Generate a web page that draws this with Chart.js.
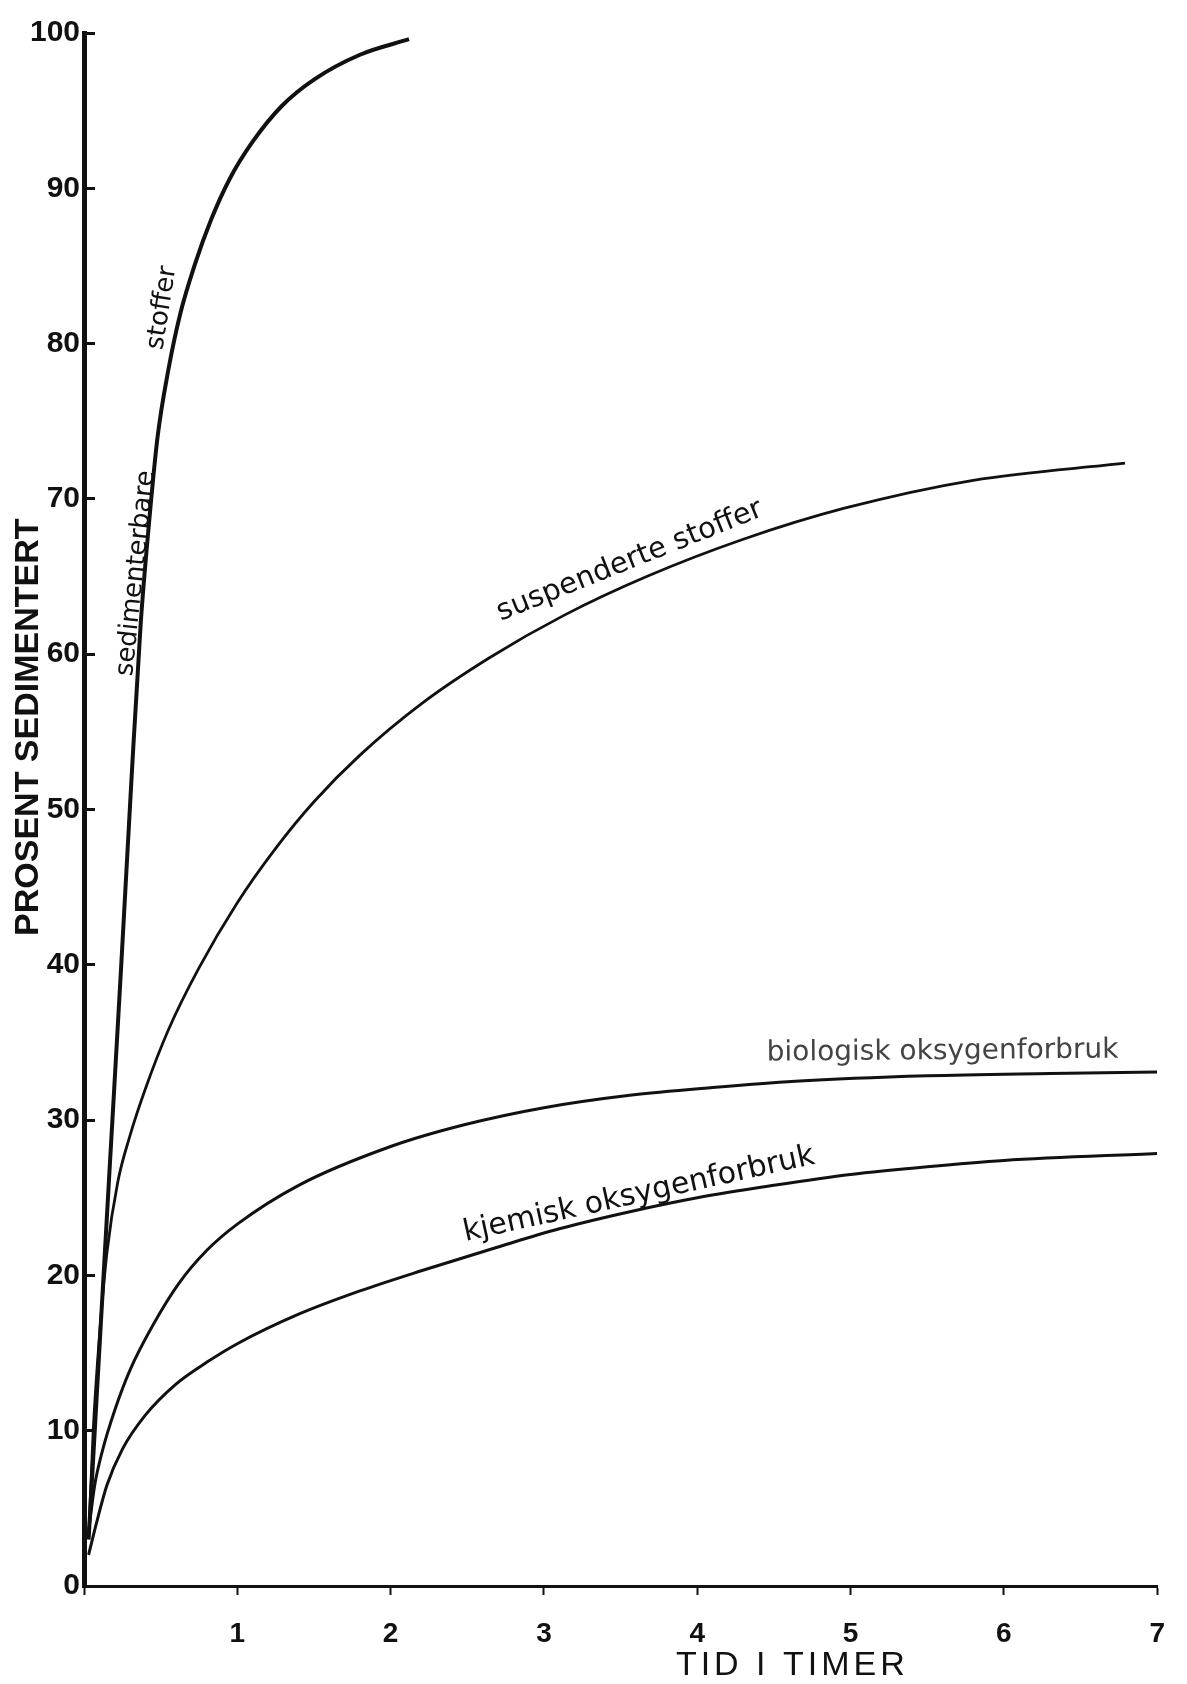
<!DOCTYPE html>
<html>
<head>
<meta charset="utf-8">
<script src="https://cdn.jsdelivr.net/npm/chart.js@4.4.1/dist/chart.umd.min.js"></script>
<style>
  html, body { margin: 0; padding: 0; background: #fff; }
  canvas { display: block; }
</style>
</head>
<body>
<canvas id="chart" width="1187" height="1684"></canvas>
<script>
// Sedimentation over time
const sedimentHours = [0.03, 0.165, 0.243, 0.31, 0.37, 0.42, 0.48, 0.55, 0.63, 0.72, 0.83, 0.95, 1.10, 1.29, 1.5, 1.8, 2.12];
const sedimentPct   = [3, 26.5, 40, 52, 62, 68, 74, 78.3, 82, 85, 88, 90.6, 93.0, 95.3, 97.0, 98.6, 99.6];

const suspendedHours = [0.03, 0.06, 0.10, 0.15, 0.22, 0.30, 0.40, 0.55, 0.75, 1.0, 1.25, 1.5, 1.8, 2.2, 2.65, 3.13, 3.67, 4.3, 4.96, 5.8, 6.79];
const suspendedPct   = [3, 10, 16, 21.5, 26, 29, 32, 35.8, 39.8, 44, 47.5, 50.5, 53.5, 56.8, 59.8, 62.5, 65.0, 67.4, 69.4, 71.2, 72.3];

const bioHours = [0.03, 0.07, 0.12, 0.2, 0.3, 0.45, 0.62, 0.8, 1.0, 1.4, 2.0, 2.48, 3.0, 3.56, 4.1, 4.64, 5.5, 6.3, 7.0];
const bioPct   = [3.5, 6.5, 8.7, 11.3, 13.9, 16.8, 19.5, 21.6, 23.3, 25.8, 28.3, 29.7, 30.8, 31.6, 32.1, 32.5, 32.85, 33.0, 33.1];

const chemHours = [0.03, 0.08, 0.15, 0.25, 0.4, 0.6, 0.8, 1.0, 1.4, 1.8, 2.2, 2.69, 3.1, 3.56, 4.0, 4.5, 5.0, 5.5, 6.0, 7.0];
const chemPct   = [2, 4, 6.5, 8.8, 11.0, 13.0, 14.4, 15.6, 17.5, 19.0, 20.3, 21.8, 23.0, 24.1, 25.0, 25.8, 26.5, 27.0, 27.4, 27.85];

const xTickLabels = ["", "1", "2", "3", "4", "5", "6", "7"];
const yTickLabels = ["0", "10", "20", "30", "40", "50", "60", "70", "80", "90", "100"];

// Curve captions, anchored in data units
const curveLabels = [
  { text: "stoffer", x: 0.51, y: 82.3, angle: -81, size: 26 },
  { text: "sedimenterbare", x: 0.34, y: 65.2, angle: -84, size: 26 },
  { text: "suspenderte stoffer", x: 3.56, y: 66.0, angle: -21.8, size: 29 },
  { text: "biologisk oksygenforbruk", x: 5.6, y: 34.4, angle: -0.5, size: 28, color: "#444" },
  { text: "kjemisk oksygenforbruk", x: 3.62, y: 25.2, angle: -12.5, size: 30 }
];

const toPoints = (xs, ys) => xs.map((x, i) => ({ x: x, y: ys[i] }));

function curve(data, width) {
  return {
    data: data,
    borderColor: "#111",
    borderWidth: width,
    pointRadius: 0,
    fill: false,
    tension: 0.4,
    cubicInterpolationMode: "monotone"
  };
}

const tickFont = { family: "'Liberation Sans', Arial, sans-serif", weight: "bold" };

// axis titles and curve captions
const captionPlugin = {
  id: "captions",
  afterDatasetsDraw(chart) {
    const ctx = chart.ctx;
    const xs = chart.scales.x, ys = chart.scales.y;
    ctx.save();
    ctx.textAlign = "center";
    ctx.textBaseline = "middle";
    curveLabels.forEach(l => {
      ctx.save();
      ctx.translate(xs.getPixelForValue(l.x), ys.getPixelForValue(l.y));
      ctx.rotate(l.angle * Math.PI / 180);
      ctx.fillStyle = l.color || "#111";
      ctx.font = l.size + "px 'DejaVu Sans', sans-serif";
      ctx.fillText(l.text, 0, 0);
      ctx.restore();
    });

    // y title, sits a bit above the middle of the axis
    ctx.save();
    ctx.translate(29, ys.getPixelForValue(55.3));
    ctx.rotate(-Math.PI / 2);
    ctx.fillStyle = "#111";
    ctx.font = "bold 34px 'Liberation Sans', Arial, sans-serif";
    ctx.fillText("PROSENT SEDIMENTERT", 0, 0);
    ctx.restore();

    // x title
    ctx.fillStyle = "#111";
    ctx.font = "34px 'Liberation Sans', Arial, sans-serif";
    ctx.letterSpacing = "4px";
    ctx.fillText("TID I TIMER", xs.getPixelForValue(4.62), chart.chartArea.bottom + 80);
    ctx.restore();
  }
};

new Chart(document.getElementById("chart").getContext("2d"), {
  type: "line",
  data: {
    datasets: [
      curve(toPoints(sedimentHours, sedimentPct), 4),
      curve(toPoints(suspendedHours, suspendedPct), 2.8),
      curve(toPoints(bioHours, bioPct), 3),
      curve(toPoints(chemHours, chemPct), 3)
    ]
  },
  options: {
    responsive: false,
    animation: false,
    devicePixelRatio: 1,
    layout: { padding: { left: 0, right: 22, top: 24, bottom: 0 } },
    plugins: {
      legend: { display: false },
      tooltip: { enabled: false }
    },
    scales: {
      x: {
        type: "linear",
        min: 0,
        max: 7,
        border: { display: true, width: 3, color: "#111" },
        grid: { drawOnChartArea: false, drawTicks: true, tickLength: 9, tickWidth: 2, tickColor: "#111" },
        ticks: {
          stepSize: 1,
          padding: 22,
          color: "#111",
          font: Object.assign({ size: 28 }, tickFont),
          callback: v => xTickLabels[v] ?? ""
        },
        afterFit: scale => { scale.height = 98; }
      },
      y: {
        min: 0,
        max: 100,
        border: { display: true, width: 5, color: "#111" },
        grid: { drawOnChartArea: false, drawTicks: true, tickLength: -11, tickWidth: 3, tickColor: "#111" },
        ticks: {
          stepSize: 10,
          padding: 15,
          color: "#111",
          font: Object.assign({ size: 30 }, tickFont),
          callback: v => yTickLabels[v / 10] ?? ""
        },
        afterFit: scale => { scale.width = 84; }
      }
    }
  },
  plugins: [captionPlugin]
});
</script>
</body>
</html>
